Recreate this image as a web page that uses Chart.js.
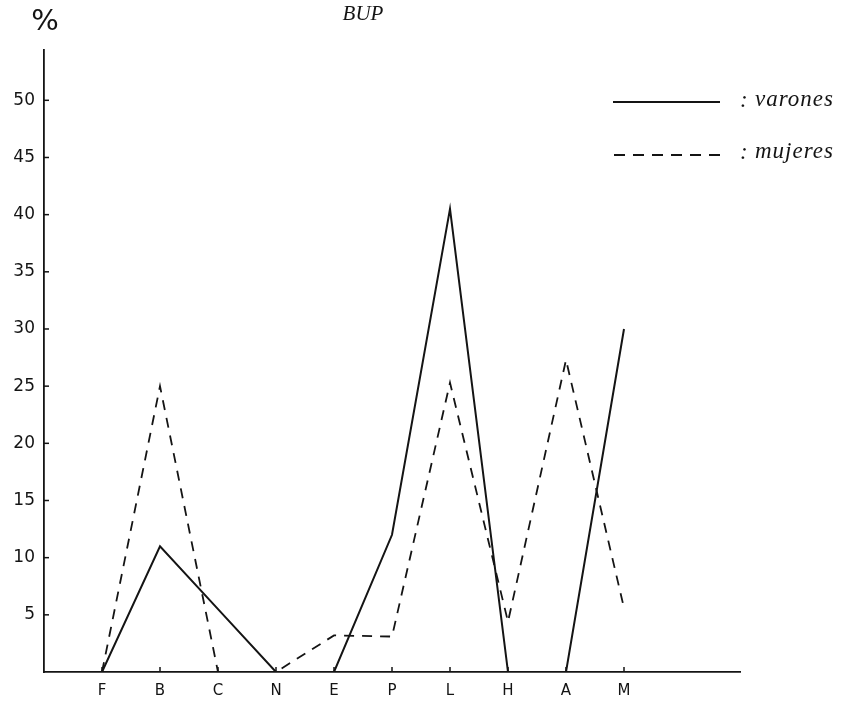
<!DOCTYPE html>
<html>
<head>
<meta charset="utf-8">
<title>BUP</title>
<script src="https://cdn.jsdelivr.net/npm/chart.js@4/dist/chart.umd.min.js"></script>
<style>
  html, body { margin: 0; padding: 0; background: #fff; }
  #wrap { width: 852px; height: 701px; position: relative; }
</style>
</head>
<body>
<div id="wrap"><canvas id="bupChart" width="852" height="701"></canvas></div>
<script>
// categorías del eje x
const categories = ["F", "B", "C", "N", "E", "P", "L", "H", "A", "M"];
// porcentajes
const varones = [0, 11, 5.5, 0, 0, 12, 40.5, 0, 0, 30];
const mujeres = [0, 25, 0, 0, 3.2, 3.1, 25.3, 4.4, 27.3, 5.6];
const yTicks = [5, 10, 15, 20, 25, 30, 35, 40, 45, 50];

const INK = "#141414";
const HAND_FONT = "'DejaVu Sans', sans-serif";
const SERIF = "'Liberation Serif', 'DejaVu Serif', serif";

function toPoints(values) {
  return values.map((v, i) => ({ x: i, y: v }));
}

// marcas cortas hacia dentro, título, "%" y leyenda
const decorPlugin = {
  id: "decor",
  afterDraw(chart) {
    const { ctx, chartArea, scales } = chart;
    ctx.save();
    ctx.strokeStyle = INK;
    ctx.lineWidth = 1.5;

    yTicks.forEach((v) => {
      const y = scales.y.getPixelForValue(v);
      ctx.beginPath();
      ctx.moveTo(chartArea.left, y);
      ctx.lineTo(chartArea.left + 5, y);
      ctx.stroke();
    });
    categories.forEach((c, i) => {
      const x = scales.x.getPixelForValue(i);
      ctx.beginPath();
      ctx.moveTo(x, chartArea.bottom);
      ctx.lineTo(x, chartArea.bottom - 5);
      ctx.stroke();
    });

    ctx.fillStyle = INK;
    ctx.textBaseline = "middle";
    ctx.textAlign = "center";
    ctx.font = `29px ${HAND_FONT}`;
    ctx.fillText("%", 45, 22);

    ctx.font = `italic 21px ${SERIF}`;
    ctx.fillText("BUP", 363, 14);

    // leyenda
    ctx.lineWidth = 2;
    ctx.beginPath();
    ctx.moveTo(613, 102);
    ctx.lineTo(720, 102);
    ctx.stroke();
    ctx.setLineDash([11, 8]);
    ctx.beginPath();
    ctx.moveTo(614, 155);
    ctx.lineTo(720, 155);
    ctx.stroke();
    ctx.setLineDash([]);

    ctx.textAlign = "left";
    ctx.font = `italic 23px ${SERIF}`;
    ctx.letterSpacing = "1px";
    ctx.fillText(":", 740, 101);
    ctx.fillText(":", 740, 153);
    ctx.fillText("varones", 755, 100);
    ctx.fillText("mujeres", 755, 152);
    ctx.restore();
  },
};

new Chart(document.getElementById("bupChart"), {
  type: "line",
  data: {
    datasets: [
      {
        label: "varones",
        data: toPoints(varones),
        borderColor: INK,
        borderWidth: 2,
        pointRadius: 0,
        tension: 0,
      },
      {
        label: "mujeres",
        data: toPoints(mujeres),
        borderColor: INK,
        borderWidth: 1.8,
        borderDash: [10, 8],
        pointRadius: 0,
        tension: 0,
      },
    ],
  },
  options: {
    responsive: false,
    animation: false,
    layout: { padding: { top: 50, right: 112, bottom: 0, left: 0 } },
    plugins: {
      legend: { display: false },
      tooltip: { enabled: false },
      title: { display: false },
    },
    scales: {
      x: {
        type: "linear",
        min: -1,
        max: 11,
        afterFit: (scale) => { scale.height = 29; },
        border: { display: true, color: INK, width: 1.8 },
        grid: { display: false, drawTicks: false },
        ticks: {
          stepSize: 1,
          autoSkip: false,
          maxRotation: 0,
          padding: 10,
          color: INK,
          font: { family: HAND_FONT, size: 15 },
          callback: (v) => categories[v] || "",
        },
      },
      y: {
        min: 0,
        max: 54.4,
        afterFit: (scale) => { scale.width = 44; },
        border: { display: true, color: INK, width: 1.8 },
        grid: { display: false, drawTicks: false },
        ticks: {
          stepSize: 5,
          includeBounds: false,
          padding: 9,
          color: INK,
          font: { family: HAND_FONT, size: 17 },
          callback: (v) => (yTicks.includes(v) ? String(v) : ""),
        },
      },
    },
  },
  plugins: [decorPlugin],
});
</script>
</body>
</html>
